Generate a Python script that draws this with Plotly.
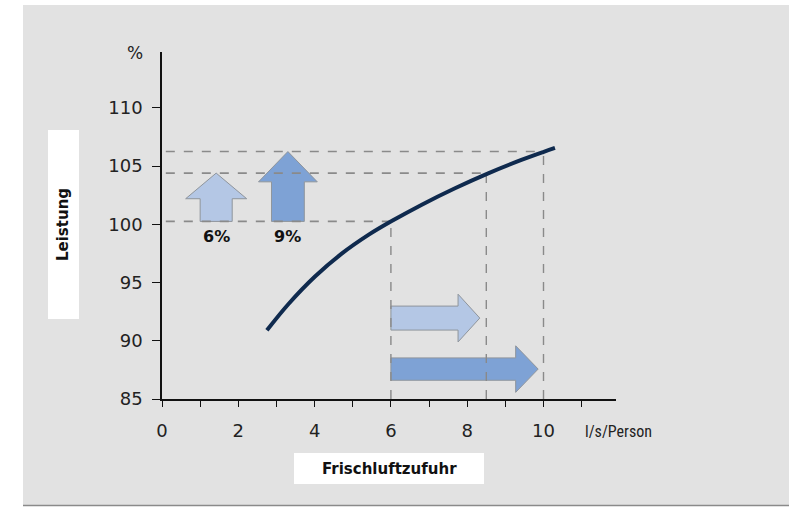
import plotly.graph_objects as go

# ---- data ----
curve_x = [2.75, 3.31, 4.01, 4.71, 5.41, 6.02, 6.81, 7.68, 8.55, 9.42, 9.99, 10.3]
curve_y = [90.90, 93.14, 95.52, 97.48, 99.09, 100.28, 101.69, 103.10, 104.38, 105.53, 106.21, 106.56]

airflow_marks = [6.0, 8.5, 10.0]          # l/s/Person
performance_levels = [100.25, 104.4, 106.25]  # % at those airflows
gain_labels = ["6%", "9%"]

y_tickvals = [85, 90, 95, 100, 105, 110]
x_tickvals = list(range(0, 12))
x_ticktext = [str(v) if v % 2 == 0 and v <= 10 else "" for v in x_tickvals]

W, H = 789, 507
L, R, T, B = 162, 173, 52, 108
PW, PH = W - L - R, H - T - B


def px(x):
    return (x - L) / PW


def py(y):
    return (H - B - y) / PH


fig = go.Figure()

LIGHT = "#b4c7e5"
DARK = "#7ea2d5"
EDGE = "#8f959c"


def up_arrow(xc, base, top, shaft_hw, head_hw, head_h, color):
    hb = top - head_h
    xs = [xc - shaft_hw, xc + shaft_hw, xc + shaft_hw, xc + head_hw, xc,
          xc - head_hw, xc - shaft_hw, xc - shaft_hw]
    ys = [base, base, hb, hb, top, hb, hb, base]
    fig.add_trace(go.Scatter(x=xs, y=ys, fill="toself", fillcolor=color, mode="lines",
                             line=dict(color=EDGE, width=1), hoverinfo="skip", showlegend=False))


def right_arrow(start, tip, yc, shaft_hh, head_hh, head_l, color):
    hb = tip - head_l
    xs = [start, hb, hb, tip, hb, hb, start, start]
    ys = [yc - shaft_hh, yc - shaft_hh, yc - head_hh, yc, yc + head_hh, yc + shaft_hh,
          yc + shaft_hh, yc - shaft_hh]
    fig.add_trace(go.Scatter(x=xs, y=ys, fill="toself", fillcolor=color, mode="lines",
                             line=dict(color=EDGE, width=1), hoverinfo="skip", showlegend=False))


# arrows
up_arrow(1.42, performance_levels[0], performance_levels[1], 0.42, 0.80, 2.2, LIGHT)
up_arrow(3.30, performance_levels[0], performance_levels[2], 0.43, 0.77, 2.6, DARK)
right_arrow(airflow_marks[0], 8.33, 91.95, 1.03, 2.05, 0.57, LIGHT)
right_arrow(airflow_marks[0], 9.86, 87.57, 0.96, 2.0, 0.59, DARK)

# dashed guide lines
for xv, yv in zip(airflow_marks, performance_levels):
    fig.add_trace(go.Scatter(x=[0.1, xv], y=[yv, yv], mode="lines",
                             line=dict(color="#8a8a8a", width=1.6, dash="dash"),
                             hoverinfo="skip", showlegend=False))
    fig.add_trace(go.Scatter(x=[xv, xv], y=[85, yv], mode="lines",
                             line=dict(color="#8a8a8a", width=1.4, dash="dash"),
                             hoverinfo="skip", showlegend=False))

# curve
fig.add_trace(go.Scatter(x=curve_x, y=curve_y, mode="lines",
                         line=dict(color="#0f2a4e", width=4, shape="spline", smoothing=1.0),
                         showlegend=False))

# gain labels
for xc, txt in zip([1.42, 3.30], gain_labels):
    fig.add_annotation(x=xc, y=98.95, text="<b>" + txt + "</b>", showarrow=False,
                       xanchor="center", yanchor="middle",
                       font=dict(family="DejaVu Sans", size=16, color="#111"))

shapes = [
    dict(type="rect", xref="paper", yref="paper", x0=px(23), x1=px(789), y0=py(505), y1=py(5),
         fillcolor="#e2e2e2", line=dict(width=0), layer="below"),
    dict(type="line", xref="paper", yref="paper", x0=px(23), x1=px(789), y0=py(505.5), y1=py(505.5),
         line=dict(color="#8a8a8a", width=1.5)),
    dict(type="rect", xref="paper", yref="paper", x0=px(48), x1=px(79), y0=py(319), y1=py(130),
         fillcolor="white", line=dict(width=0), layer="below"),
    dict(type="rect", xref="paper", yref="paper", x0=px(294), x1=px(484), y0=py(484), y1=py(453),
         fillcolor="white", line=dict(width=0), layer="below"),
]

annotations = [
    dict(xref="paper", yref="paper", x=px(63.5), y=py(224.5), text="<b>Leistung</b>", textangle=-90,
         showarrow=False, font=dict(family="DejaVu Sans", size=15, color="#111")),
    dict(xref="paper", yref="paper", x=px(389), y=py(468.5), text="<b>Frischluftzufuhr</b>",
         showarrow=False, font=dict(family="DejaVu Sans", size=15, color="#111")),
    dict(xref="paper", yref="paper", x=px(135), y=py(53), text="%",
         showarrow=False, font=dict(family="DejaVu Sans", size=17, color="#222")),
    dict(xref="paper", yref="paper", x=px(618), y=py(431), text="l/s/Person",
         showarrow=False,
         font=dict(family="Roboto Condensed, DejaVu Sans Condensed, Roboto, sans-serif",
                   size=16, color="#222")),
]
for a in annotations:
    fig.add_annotation(xanchor="center", yanchor="middle", **a)

fig.update_layout(
    width=W, height=H,
    margin=dict(l=L, r=R, t=T, b=B),
    paper_bgcolor="white",
    plot_bgcolor="#f2f2f2",
    shapes=shapes,
    showlegend=False,
    xaxis=dict(range=[0, 11.9], tickvals=x_tickvals, ticktext=x_ticktext,
               ticks="outside", ticklen=6, tickcolor="#111", tickwidth=1.2,
               showline=True, linecolor="#111", linewidth=1.5,
               showgrid=False, zeroline=False, ticklabelstandoff=9,
               tickfont=dict(family="DejaVu Sans", size=18, color="#222")),
    yaxis=dict(range=[85, 114.8], tickvals=y_tickvals,
               ticks="outside", ticklen=8, tickcolor="#111", tickwidth=1.2,
               showline=True, linecolor="#111", linewidth=1.5,
               showgrid=False, zeroline=False, ticklabelstandoff=6,
               tickfont=dict(family="DejaVu Sans", size=18, color="#222")),
)

fig.write_html("out.html", config={"displayModeBar": False},
               post_script="document.body.style.margin='0px';document.body.style.overflow='hidden';")
